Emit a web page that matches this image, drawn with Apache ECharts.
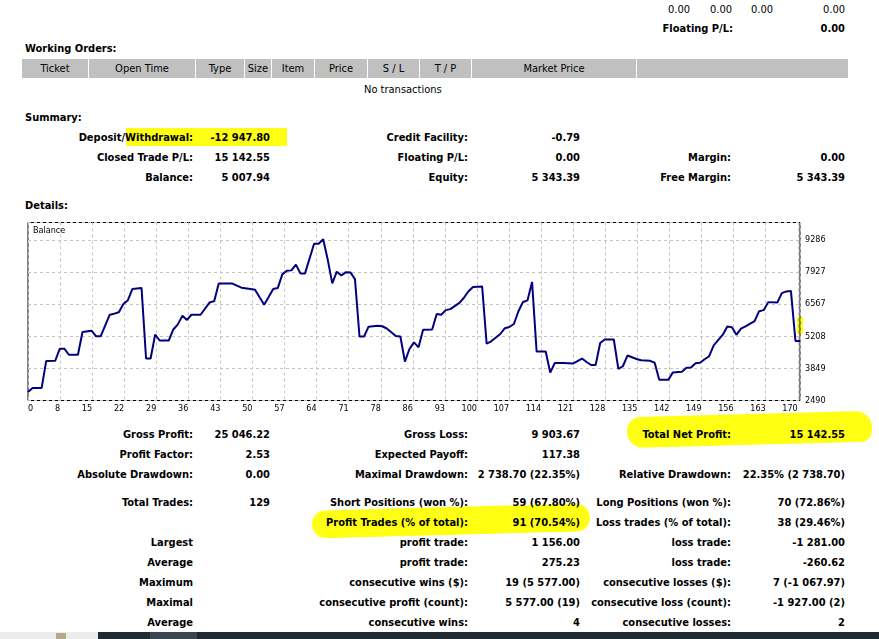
<!DOCTYPE html>
<html>
<head>
<meta charset="utf-8">
<title>Statement</title>
<script src="https://cdn.jsdelivr.net/npm/echarts@6/dist/echarts.min.js"></script>
<style>
body{margin:0;width:879px;height:639px;overflow:hidden;background:#fff;position:relative;
     font-family:'DejaVu Sans Condensed','DejaVu Sans',sans-serif;font-stretch:condensed;font-size:11px;color:#000;}
.t{position:absolute;white-space:nowrap;line-height:14px;height:14px;font-weight:bold;z-index:2;margin-top:1px}
.n{font-weight:normal}
.a{right:686px}.b{right:609px}.c{right:411px}.d{right:299px}.e{right:148px}.f{right:34px}
.hd{position:absolute;top:59px;height:19px;line-height:20px;background:#c0c0c0;text-align:center;white-space:nowrap}
.hl{position:absolute;background:#ffff14;mix-blend-mode:multiply;z-index:5}
#chart{position:absolute;left:0;top:215px;width:879px;height:205px;z-index:1}
</style>
</head>
<body>

<!-- top block -->
<div class="t n" style="top:2px;right:189px">0.00</div>
<div class="t n" style="top:2px;right:147px">0.00</div>
<div class="t n" style="top:2px;right:106px">0.00</div>
<div class="t n" style="top:2px;right:34px">0.00</div>
<div class="t" style="top:21px;right:146px">Floating P/L:</div>
<div class="t f" style="top:21px">0.00</div>

<div class="t" style="top:41px;left:25px">Working Orders:</div>
<div class="hd" style="left:22px;width:66px">Ticket</div>
<div class="hd" style="left:89px;width:106px">Open Time</div>
<div class="hd" style="left:196px;width:48px">Type</div>
<div class="hd" style="left:245px;width:26px">Size</div>
<div class="hd" style="left:272px;width:42px">Item</div>
<div class="hd" style="left:315px;width:52px">Price</div>
<div class="hd" style="left:368px;width:51px">S / L</div>
<div class="hd" style="left:420px;width:51px">T / P</div>
<div class="hd" style="left:472px;width:164px">Market Price</div>
<div class="hd" style="left:637px;width:211px"></div>
<div class="t n" style="top:82px;left:364px">No transactions</div>

<!-- summary -->
<div class="t" style="top:110px;left:25px">Summary:</div>
<div class="t a" style="top:130px">Deposit/Withdrawal:</div><div class="t b" style="top:130px">-12 947.80</div>
<div class="t c" style="top:130px">Credit Facility:</div><div class="t d" style="top:130px">-0.79</div>
<div class="t a" style="top:150px">Closed Trade P/L:</div><div class="t b" style="top:150px">15 142.55</div>
<div class="t c" style="top:150px">Floating P/L:</div><div class="t d" style="top:150px">0.00</div>
<div class="t e" style="top:150px">Margin:</div><div class="t f" style="top:150px">0.00</div>
<div class="t a" style="top:170px">Balance:</div><div class="t b" style="top:170px">5 007.94</div>
<div class="t c" style="top:170px">Equity:</div><div class="t d" style="top:170px">5 343.39</div>
<div class="t e" style="top:170px">Free Margin:</div><div class="t f" style="top:170px">5 343.39</div>

<div class="t" style="top:198px;left:25px">Details:</div>
<div id="chart"></div>

<!-- details -->
<div class="t a" style="top:427px">Gross Profit:</div><div class="t b" style="top:427px">25 046.22</div>
<div class="t c" style="top:427px">Gross Loss:</div><div class="t d" style="top:427px">9 903.67</div>
<div class="t e" style="top:427px">Total Net Profit:</div><div class="t f" style="top:427px">15 142.55</div>
<div class="t a" style="top:447px">Profit Factor:</div><div class="t b" style="top:447px">2.53</div>
<div class="t c" style="top:447px">Expected Payoff:</div><div class="t d" style="top:447px">117.38</div>
<div class="t a" style="top:467px">Absolute Drawdown:</div><div class="t b" style="top:467px">0.00</div>
<div class="t c" style="top:467px">Maximal Drawdown:</div><div class="t d" style="top:467px">2 738.70 (22.35%)</div>
<div class="t e" style="top:467px">Relative Drawdown:</div><div class="t f" style="top:467px">22.35% (2 738.70)</div>
<div class="t a" style="top:495px">Total Trades:</div><div class="t b" style="top:495px">129</div>
<div class="t c" style="top:495px">Short Positions (won %):</div><div class="t d" style="top:495px">59 (67.80%)</div>
<div class="t e" style="top:495px">Long Positions (won %):</div><div class="t f" style="top:495px">70 (72.86%)</div>
<div class="t c" style="top:515px">Profit Trades (% of total):</div><div class="t d" style="top:515px">91 (70.54%)</div>
<div class="t e" style="top:515px">Loss trades (% of total):</div><div class="t f" style="top:515px">38 (29.46%)</div>
<div class="t a" style="top:535px">Largest</div>
<div class="t c" style="top:535px">profit trade:</div><div class="t d" style="top:535px">1 156.00</div>
<div class="t e" style="top:535px">loss trade:</div><div class="t f" style="top:535px">-1 281.00</div>
<div class="t a" style="top:555px">Average</div>
<div class="t c" style="top:555px">profit trade:</div><div class="t d" style="top:555px">275.23</div>
<div class="t e" style="top:555px">loss trade:</div><div class="t f" style="top:555px">-260.62</div>
<div class="t a" style="top:575px">Maximum</div>
<div class="t c" style="top:575px">consecutive wins ($):</div><div class="t d" style="top:575px">19 (5 577.00)</div>
<div class="t e" style="top:575px">consecutive losses ($):</div><div class="t f" style="top:575px">7 (-1 067.97)</div>
<div class="t a" style="top:595px">Maximal</div>
<div class="t c" style="top:595px">consecutive profit (count):</div><div class="t d" style="top:595px">5 577.00 (19)</div>
<div class="t e" style="top:595px">consecutive loss (count):</div><div class="t f" style="top:595px">-1 927.00 (2)</div>
<div class="t a" style="top:615px">Average</div>
<div class="t c" style="top:615px">consecutive wins:</div><div class="t d" style="top:615px">4</div>
<div class="t e" style="top:615px">consecutive losses:</div><div class="t f" style="top:615px">2</div>

<!-- marker highlights -->
<div class="hl" style="left:126px;top:128px;width:161px;height:18px"></div>
<div class="hl" style="left:627px;top:414px;width:245px;height:31px;border-radius:14px 16px 12px 16px;transform:rotate(-1.5deg)"></div>
<div class="hl" style="left:312px;top:507px;width:278px;height:28px;border-radius:14px;transform:rotate(-1.5deg)"></div>
<div class="hl" style="left:797px;top:317px;width:6px;height:17px"></div>

<!-- taskbar strip -->
<div style="position:absolute;left:0;top:632px;width:879px;height:7px;background:#1f2a33"></div>
<div style="position:absolute;left:0;top:632px;width:98px;height:7px;background:#ececec"></div>
<div style="position:absolute;left:56px;top:633px;width:10px;height:6px;background:#b9a98a"></div>
<div style="position:absolute;left:150px;top:632px;width:47px;height:7px;background:#3a4651"></div>

<script>
// balance line (trade number -> balance)
var tradeNo = [0,1,3,4,6,7,8,9,11,12,14,15,16,18,19,20,21,22,23,25,26,27,28,29,31,32,33,34,35,36,38,40,41,42,45,47,49,50,52,54,
               55,56,57,58,59,60,61,63,64,65,66,67,68,69,70,71,72,73,74,75,77,78,79,81,82,83,84,85,86,87,89,90,91,92,93,95,96,97,98,100,
               101,102,104,105,106,107,108,109,110,111,112,114,115,116,118,120,122,123,124,125,126,127,129,130,131,132,134,135,137,138,139,141,142,144,
               145,146,147,148,149,150,151,153,154,155,156,157,158,160,161,162,163,165,166,167,168,169,170];
var balance = [2846,3015,3015,4159,4172,4681,4681,4426,4426,5388,5443,5206,5206,6121,6163,6223,6575,6731,7210,7252,4265,4265,5282,5028,5028,5494,5710,6079,5897,6117,6117,6638,6693,7435,7435,7261,7210,7176,6541,7210,
               7244,7824,7981,7994,8235,7867,7867,9117,9117,9307,8451,7443,7939,7778,7918,7909,7625,5197,5197,5613,5655,5630,5536,5219,5197,4138,4668,4947,4740,5481,5494,6151,6117,6312,6354,6617,6837,7113,7295,7316,
               4892,4994,5303,5549,5600,5727,6265,6659,6727,7507,4562,4562,3672,4075,4075,4053,4265,4117,3990,3990,4922,5070,5070,3829,3939,4392,4244,4189,4168,4087,3363,3363,3672,3702,
               3871,3884,4066,4083,4236,4363,4820,5274,5621,5587,5269,5528,5630,5846,6269,6312,6651,6630,7032,7104,7125,5010,5008];
var xTickLabels = ['0','8','15','22','29','36','43','50','57','64','71','78','86','93','100','107','114','121','128','135','142','149','156','163','170'];
var yTickLabels = ['2490','3849','5208','6567','7927','9286'];

var fontFam = "'DejaVu Sans Condensed', 'DejaVu Sans', sans-serif";
var yMin = 2490, yMax = 10019, yStep = 1359.2;
var xMax = 170, xSteps = 24.07;

function pick(list) {
    return function (v) {
        var k = Math.round(v);
        if (Math.abs(v - k) > 1e-6) return '';
        return list[k] === undefined ? '' : list[k];
    };
}

var data = [];
for (var i = 0; i < tradeNo.length; i++) data.push([tradeNo[i], balance[i]]);

var chart = echarts.init(document.getElementById('chart'), null, {renderer: 'canvas'});
chart.setOption({
    animation: false,
    title: {
        text: 'Balance', left: 33, top: 11, padding: 0,
        textStyle: {fontSize: 9, fontWeight: 'normal', color: '#000', fontFamily: fontFam}
    },
    grid: {left: 28, top: 7.5, width: 772, height: 178, show: true, borderColor: '#000', borderWidth: 1, backgroundColor: 'transparent'},
    xAxis: [{
        type: 'value', min: 0, max: xSteps, interval: 1, position: 'bottom',
        axisLine: {show: false}, axisTick: {show: false},
        axisLabel: {formatter: pick(xTickLabels), fontSize: 9, color: '#000', fontFamily: fontFam,
                    margin: 4, align: 'right', alignMinLabel: 'left', showMaxLabel: true, showMinLabel: true},
        splitLine: {show: true, lineStyle: {color: '#c4c4c4', width: 1, type: [3, 3]}}
    }, {
        type: 'value', min: 0, max: xMax, show: false, position: 'top'
    }],
    yAxis: [{
        type: 'value', min: 0, max: (yMax - yMin) / yStep, interval: 1, position: 'right',
        axisLine: {show: false}, axisTick: {show: false},
        axisLabel: {formatter: pick(yTickLabels), fontSize: 9, color: '#000', fontFamily: fontFam, margin: 5},
        splitLine: {show: true, lineStyle: {color: '#c4c4c4', width: 1, type: [3, 3]}}
    }, {
        type: 'value', min: yMin, max: yMax, show: false, position: 'left'
    }],
    series: [{
        name: 'Balance', type: 'line', xAxisIndex: 1, yAxisIndex: 1,
        data: data, showSymbol: false, symbol: 'none',
        lineStyle: {color: '#000080', width: 2}
    }]
});
</script>
</body>
</html>
